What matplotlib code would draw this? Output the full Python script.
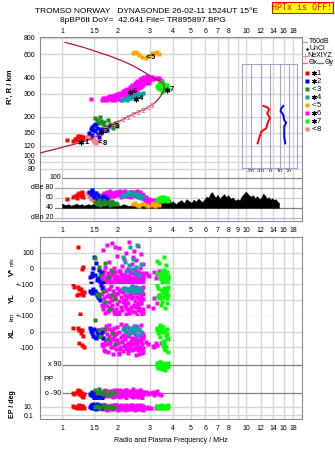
import numpy as np
from matplotlib import pyplot as plt
from matplotlib.patches import Rectangle
from matplotlib.ticker import NullLocator
from matplotlib.transforms import blended_transform_factory

plt.rcParams['font.family'] = ['Liberation Sans', 'DejaVu Sans']
plt.rcParams['font.size'] = 5

nan = np.nan
W, H = 335, 451

# frequency axis (MHz)
freq_ticks = [1, 1.5, 2, 3, 4, 5, 6, 7, 8, 9, 10, 12, 14, 16, 18]
freq_labels = ['1', '1.5', '2', '3', '4', '5', '6', '7', '8', '9',
               '10', '12', '14', '16', '18']
freq_labels_no9 = ['' if s == '9' else s for s in freq_labels]
range_ticks = [80, 90, 100, 120, 150, 200, 300, 400, 600, 800]

# true-height profile (red curve) and NeXtYZ points
prof_f = [0.75, 0.9, 1.06, 1.25, 1.40, 1.52, 1.62, 1.72, 1.86, 2.02, 2.15,
          2.29, 2.44, 2.60, 2.77, 2.92, 3.07, 3.22, 3.36, 3.48, 3.56, 3.60,
          3.56, 3.45, 3.27, 3.05, 2.77, 2.40, 2.07, 1.80, 1.54, 1.30, 1.04]
prof_r = [105, 112, 119, 126, 133, 140, 150, 160, 173, 183, 191, 200, 210,
          218, 226, 235, 245, 258, 275, 295, 315, 335, 355, 370, 384, 405,
          442, 495, 542, 585, 628, 680, 740]
ne_f = [1.52, 1.62, 1.72, 1.86, 2.02, 2.15, 2.29, 2.44, 2.60, 2.77, 2.92, 3.07]
ne_r = [140, 150, 160, 173, 183, 191, 200, 210, 218, 226, 235, 245]
ne_err = [5, 5, 6, 6, 6, 7, 7, 7, 8, 8, 8, 9]

# tilt inset
tilt_hx = [242, 234, 225, 212, 195, 183, 163, 154, 140, 133, 125]
tilt_x = [-7, -2, -1, -3, 0, -2, -4, -9, -11, -12, -13]
tilt_hy = [242, 232, 222, 206, 188, 180, 168, 154, 140, 125]
tilt_y = [14, 12, 11, 14, 15, 17, 15, 15, 15, 16]

# noise level (T60dB trace) in amplitude strip
noise_f = [1.00, 1.04, 1.08, 1.12, 1.16, 1.20, 1.24, 1.28, 1.32, 1.36,
           1.40, 1.44, 1.48, 1.52, 1.56, 1.60, 1.65, 1.70, 1.75, 1.80,
           1.85, 1.90, 1.95, 2.00, 2.08, 2.16, 2.24, 2.32, 2.40, 2.48,
           2.56, 2.64, 2.72, 2.80, 2.88, 2.96, 3.04, 3.12, 3.20, 3.28,
           3.36, 3.44, 3.52, 3.60, 3.68, 3.76, 3.84, 3.92, 4.00, 4.15,
           4.30, 4.45, 4.60, 4.75, 4.90, 5.05, 5.20, 5.35, 5.50, 5.65,
           5.80, 5.95, 6.10, 6.25, 6.40, 6.55, 6.70, 6.85, 7.00, 7.20,
           7.40, 7.60, 7.80, 8.00, 8.25, 8.50, 8.75, 9.00, 9.25, 9.50,
           9.75, 10.0, 10.3, 10.6, 10.9, 11.2, 11.5, 11.8, 12.1, 12.4,
           12.7, 13.0, 13.3, 13.6, 13.9, 14.2, 14.5, 14.8, 15.1]
noise_db = [48, 45, 47, 44, 46, 48, 45, 47, 44, 46,
            47, 45, 48, 46, 49, 45, 47, 44, 46, 45,
            44, 46, 43, 45, 44, 47, 45, 43, 46, 44,
            45, 43, 46, 44, 45, 43, 47, 50, 48, 52,
            56, 50, 58, 54, 61, 52, 57, 49, 53, 47,
            52, 55, 49, 57, 53, 50, 56, 52, 58, 54,
            51, 57, 62, 60, 68, 71, 64, 60, 66, 58,
            63, 67, 61, 65, 58, 60, 54, 57, 55, 63,
            68, 72, 66, 62, 65, 59, 63, 57, 60, 68,
            64, 58, 61, 56, 59, 55, 57, 52, 50]

# echo groups: frequency, virtual range (km), amplitude (dB)
g1_f = [1.07, 1.14, 1.17, 1.20, 1.21, 1.23, 1.25, 1.26, 1.28, 1.29, 1.30, 1.22]
g1_r = [133, 131, 134, 137, 133, 139, 143, 138, 136, 140, 139, 141]
g1_a = [58, 61, 64, 60, 66, 70, 67, 63, 71, 65, 62, 68]

g2_f = [1.40, 1.43, 1.45, 1.48, 1.50, 1.52, 1.55, 1.57, 1.60, 1.62, 1.65,
        1.68, 1.72, 1.76, 1.80, 1.46, 1.53, 1.58]
g2_r = [150, 162, 168, 158, 172, 155, 165, 148, 160, 152, 157, 162, 166,
        158, 170, 145, 175, 140]
g2_a = [72, 68, 75, 65, 62, 70, 58, 66, 60, 55, 52, 64, 61, 57, 50, 73, 69, 48]

g3_f = [1.52, 1.55, 1.58, 1.62, 1.66, 1.70, 1.74, 1.78, 1.82, 1.86, 1.90,
        1.95, 2.00, 1.60]
g3_r = [195, 188, 180, 186, 175, 182, 168, 190, 176, 172, 165, 178, 170, 200]
g3_a = [52, 48, 55, 50, 47, 53, 49, 51, 46, 54, 48, 50, 47, 45]

g4_f = [2.12, 2.18, 2.22, 2.26, 2.30, 2.34, 2.38, 2.42, 2.46, 2.50, 2.54,
        2.58, 2.62, 2.66, 2.70, 2.74]
g4_r = [268, 272, 276, 270, 280, 284, 278, 288, 282, 292, 286, 296, 290,
        300, 294, 305]
g4_a = [64, 66, 68, 70, 67, 69, 71, 66, 68, 65, 63, 67, 62, 64, 60, 61]

g5_f = [2.44, 2.50, 2.55, 2.63, 2.71, 2.85, 2.95, 3.07, 3.13, 3.20, 3.27, 3.38]
g5_r = [617, 625, 610, 593, 576, 560, 585, 617, 600, 610, 630, 605]
g5_a = [48, 50, 46, 44, 47, 45, 43, 46, 49, 44, 47, 45]

g6_f = [1.43, 1.64, 1.66, 1.70, 1.72, 1.75, 1.78, 1.80, 1.83, 1.86,
        1.88, 1.91, 1.94, 1.96, 1.99, 2.01, 2.04, 2.06, 2.09, 2.11,
        2.14, 2.16, 2.19, 2.21, 2.24, 2.26, 2.29, 2.31, 2.34, 2.36,
        2.39, 2.41, 2.44, 2.46, 2.49, 2.51, 2.54, 2.56, 2.59, 2.61,
        2.64, 2.66, 2.69, 2.71, 2.74, 2.76, 2.79, 2.82, 2.85, 2.88,
        2.93, 2.98, 3.03, 3.10, 3.18, 3.27, 3.40, 3.48, 3.35, 2.96,
        1.68, 1.77, 1.85, 1.92, 2.00, 2.08, 2.15, 2.22, 2.30, 2.37,
        2.45, 2.52, 2.60, 2.67, 2.75, 2.83, 2.90, 3.00, 3.08, 3.15]
g6_r = [272, 268, 276, 270, 280, 266, 284, 272, 288, 268,
        278, 292, 270, 284, 298, 275, 290, 305, 270, 296,
        312, 282, 320, 300, 288, 328, 310, 295, 340, 318,
        300, 350, 330, 310, 362, 338, 318, 372, 350, 330,
        385, 360, 340, 396, 372, 350, 405, 385, 362, 410,
        395, 375, 400, 390, 395, 393, 380, 372, 398, 360,
        274, 278, 282, 286, 290, 294, 302, 310, 322, 330,
        344, 352, 366, 374, 388, 398, 388, 385, 402, 385]
g6_a = [60, 62, 66, 70, 64, 72, 68, 61, 74, 66,
        70, 63, 68, 72, 65, 70, 67, 73, 62, 69,
        66, 71, 64, 74, 68, 63, 70, 66, 72, 61,
        69, 65, 72, 67, 70, 64, 73, 68, 62, 70,
        66, 71, 64, 68, 60, 66, 58, 55, 62, 52,
        56, 50, 54, 52, 55, 50, 53, 56, 54, 58,
        65, 70, 63, 69, 72, 66, 70, 67, 63, 71,
        68, 65, 72, 64, 62, 57, 53, 55, 52, 54]

g7_f = [3.28, 3.32, 3.36, 3.40, 3.44, 3.48, 3.52, 3.56, 3.60, 3.64, 3.68,
        3.72, 3.76, 3.50]
g7_r = [345, 330, 360, 325, 350, 370, 335, 320, 355, 340, 330, 348, 325, 310]
g7_a = [55, 58, 60, 56, 62, 59, 54, 57, 61, 58, 55, 60, 53, 57]

g8_f = [1.36, 1.40, 1.44, 1.47, 1.50, 1.53, 1.56, 1.45]
g8_r = [140, 146, 137, 132, 128, 126, 130, 143]
g8_a = [70, 64, 58, 55, 60, 52, 57, 66]

group_names = ['1', '2', '3', '4', '5', '6', '7', '8']
group_syms = ['*', '*', '<', '*', '<', '*', '*', '<']
group_colors = ['#ff0000', '#0000ff', '#1e8c1e', '#00a5a5',
                '#ffa500', '#ff00ff', '#00ff00', '#f08080']
tag_f = [1.27, 1.62, 1.85, 2.52, 2.93, 2.33, 3.70, 1.60]
tag_r = [127, 153, 168, 275, 565, 310, 320, 125]

# echo parameters: V* (m/s), YL (km), XL (km), PP (deg), EP (deg)
p1_f = [1.14, 1.16, 1.21, 1.22, 1.23, 1.24, 1.25, 1.27, 1.28, 1.30, 1.31, 1.29]
p1_v = [nan, nan, nan, 138, nan, nan, nan, nan, -5, 10, nan, nan]
p1_y = [100, 85, 32, 85, 68, 38, -90, 68, 53, 32, 53, nan]
p1_x = [22, nan, nan, 22, -70, 11, nan, -10, 11, -28, -96, -85]
p1_pp = [-90, -95, -80, -69, -92, -86, -75, -101, -88, -112, -95, -105]
p1_ep = [11, 10, 9, 11, 10, 12, 10, 9, 11, 10, 9, 11]

p2_f = [1.42, 1.44, 1.46, 1.48, 1.50, 1.51, 1.53, 1.55, 1.57, 1.58, 1.60,
        1.62, 1.64, 1.66, 1.45, 1.56]
p2_v = [-53, -96, -32, 0, 75, -43, 32, -75, -64, -11, -85, -21, nan, -96, -50, -70]
p2_y = [60, 53, 47, 68, 50, 57, 43, 32, 21, 11, 0, 96, 75, nan, 55, 40]
p2_x = [22, 5, -10, -25, 15, -35, -42, -5, 10, -20, -30, -15, 0, -40, 8, -28]
p2_pp = [-95, -100, -85, -110, -120, -90, -105, -130, -98, -88, -115, -92,
         -125, -100, -80, -108]
p2_ep = [10, 12, 8, 13, 9, 11, 7, 13, 10, 9, 12, 8, 11, 12, 10, 9]

p3_f = [1.52, 1.55, 1.58, 1.61, 1.66, 1.72, 1.77, 1.82, 1.88, 1.95]
p3_v = [64, nan, 10, -40, nan, 32, -53, nan, -20, nan]
p3_y = [nan, 40, 25, nan, 60, -10, nan, -60, 30, 5]
p3_x = [75, nan, 10, -30, nan, 20, -50, nan, -10, -80]
p3_pp = [-70, -90, -60, -85, -95, -75, -100, -88, -92, -80]
p3_ep = [10, 11, 9, 10, 12, 9, 10, 11, 8, 10]

p4_f = [2.15, 2.20, 2.25, 2.30, 2.35, 2.39, 2.44, 2.48, 2.52, 2.56, 2.62, 2.68]
p4_v = [75, 40, -20, 21, 138, -5, 60, -30, 10, 150, -40, 30]
p4_y = [70, 80, 55, 65, 75, 60, 85, 50, 72, 62, 78, 55]
p4_x = [20, 5, 30, -15, 15, 25, -5, 10, 35, -20, 18, 0]
p4_pp = [nan] * 12
p4_ep = [nan] * 12

p6_f = [1.64, 1.66, 1.67, 1.69, 1.70, 1.72, 1.73, 1.75, 1.76, 1.78,
        1.79, 1.81, 1.83, 1.84, 1.86, 1.87, 1.89, 1.91, 1.92, 1.94,
        1.95, 1.97, 1.99, 2.00, 2.02, 2.04, 2.05, 2.07, 2.09, 2.10,
        2.12, 2.14, 2.15, 2.17, 2.19, 2.20, 2.22, 2.24, 2.26, 2.27,
        2.29, 2.31, 2.32, 2.34, 2.36, 2.38, 2.39, 2.41, 2.43, 2.45,
        2.46, 2.48, 2.50, 2.51, 2.53, 2.55, 2.56, 2.58, 2.60, 2.61,
        2.63, 2.64, 2.66, 2.67, 2.69, 2.70, 2.72, 2.73, 2.75, 2.76,
        2.77, 1.68, 1.80, 1.93, 2.06, 2.18, 2.30, 2.44, 2.57, 2.71,
        2.86, 2.92, 3.05, 3.18, 3.24, 3.30, 3.36, 3.45, 2.98, 3.12,
        1.65, 1.71, 1.77, 1.82, 1.88, 1.96, 2.03, 2.11, 2.16, 2.23,
        2.28, 2.35, 2.40, 2.47, 2.52, 2.59, 2.62, 2.68, 2.74, 2.76]
p6_v = [-80, 120, -45, -95, -20, 10, -60, 150, -75, -30,
        -90, 40, -55, -10, -85, 165, -40, -70, 5, -98,
        -25, -65, 80, -50, -88, -15, 130, -72, -35, -92,
        15, -58, -80, 60, -42, -95, -20, 100, -66, -85,
        -5, -48, 170, -78, -30, -90, 25, -60, -82, 110,
        -38, -70, -12, -95, 55, -52, -86, -22, 145, -64,
        -90, -35, 0, -76, -48, 90, -98, -28, -60, 30,
        -84, -44, -70, 135, -18, -92, -56, 70, -38, -80,
        -30, -45, nan, -25, -60, -35, -20, nan, -50, nan,
        -70, -88, -52, -95, -33, -78, -60, -90, -46, -68,
        -84, -25, -74, -92, -58, -36, -80, -96, -64, -44]
p6_y = [40, -60, 85, -20, 10, -85, 55, -40, 25, -70,
        70, -10, -50, 90, 0, -30, 60, -75, 35, -90,
        15, -55, 75, -25, 45, -80, -5, 65, -45, 20,
        -65, 50, -15, 80, -35, 30, -90, 5, -60, 72,
        -20, 58, -85, 38, -48, 12, 88, -70, 22, -32,
        62, -8, -78, 48, -42, 18, -95, 78, -28, 42,
        -52, 2, 68, -72, 28, -18, 52, -88, 8, -58,
        82, -38, 32, -82, 58, -2, -62, 46, -26, 74,
        nan, -40, nan, 10, nan, -20, 30, nan, nan, -50,
        -30, 66, -72, 18, -58, 36, -88, 70, -12, -46,
        26, -80, 54, -36, 86, -64, 6, -20, 40, -84]
p6_x = [20, -40, -90, 5, -120, -60, 35, -15, -80, -130,
        -25, 45, -70, -100, 10, -50, -140, -30, 25, -85,
        -10, -110, -55, 30, -75, -145, 0, -95, -35, 50,
        -65, -20, -125, 15, -88, -45, 40, -105, -5, -72,
        -135, -28, 22, -92, -58, 8, -115, -38, -78, 38,
        -48, -102, -12, -68, -150, 28, -82, -22, -118, -52,
        12, -95, -62, -32, 42, -108, -8, -76, -128, -42,
        -18, -86, 18, -56, -112, 32, -98, -2, -66, -138,
        -64, -80, nan, -96, -70, -88, nan, -75, nan, -90,
        -82, -122, -44, -68, -100, -16, -134, -58, -90, -26,
        -120, -72, -4, -110, -40, -96, -142, -60, -30, -104]
p6_pp = [-85, -95, -78, -102, -90, -70, -110, -88, -96, -82,
         -92, -75, -105, -86, -98, -80, -115, -90, -72, -100,
         -87, -94, -68, -108, -83, -97, -77, -112, -91, -85,
         -99, -73, -89, -104, -81, -93, -66, -118, -86, -95,
         -79, -101, -88, -74, -107, -92, -84, -98, -62, -90,
         -96, -82, -109, -87, -76, -100, -93, -80, -114, -89,
         -84, -97, -71, -103, -90, -78, -120, -86, -94, -81,
         -91, -106, -83, -95, -69, -99, -88, -111, -85, -93,
         -80, -95, -88, -100, -85, -75, -92, -98, -90, -82,
         -88, -100, -82, -94, -78, -106, -90, -84, -98, -72,
         -92, -86, -104, -80, -96, -90, -76, -102, -88, -94]
p6_ep = [8, 10, 7, 11, 9, 12, 8, 10, 6, 9,
         11, 8, 10, 7, 12, 9, 8, 11, 10, 7,
         9, 12, 8, 10, 6, 11, 9, 8, 10, 12,
         7, 9, 11, 8, 10, 6, 12, 9, 8, 10,
         11, 7, 9, 10, 8, 12, 9, 7, 11, 8,
         10, 9, 6, 11, 8, 10, 12, 7, 9, 10,
         8, 11, 9, 7, 10, 12, 8, 9, 11, 6,
         9, 10, 8, 12, 7, 9, 11, 8, 10, 9,
         9, 10, 8, nan, 9, 11, nan, 10, 8, nan,
         10, 8, 11, 9, 7, 12, 10, 8, 9, 11,
         7, 10, 12, 9, 8, 10, 11, 7, 9, 10]

p7_f = [3.27, 3.30, 3.34, 3.38, 3.41, 3.45, 3.48, 3.52, 3.55, 3.58,
        3.62, 3.65, 3.68, 3.70, 3.73, 3.76, 3.78, 3.44, 3.60, 3.50,
        3.66, 3.40, 3.57, 3.72]
p7_v = [49, -30, nan, 32, -60, -45, -15, -75, -90, 75,
        -25, -55, -40, -22, -85, -65, -50, -70, -35, -95,
        20, nan, -10, -80]
p7_y = [96, 20, 75, nan, 32, 64, -11, 50, 21, 75,
        -53, 40, nan, 64, 10, 30, 85, -30, 55, nan,
        45, 15, nan, -20]
p7_x = [11, 22, -10, 0, -32, 36, -64, 32, -85, -106,
        5, -117, -20, 15, -40, -130, -50, 25, -70, -5,
        -95, 40, -60, -15]
p7_pp = [85, 100, 70, 95, 110, 80, 65, 90, 105, 75,
         88, 60, 98, 92, 78, 84, 102, 72, 96, 68,
         86, 108, 80, 94]
p7_ep = [10, 11, 9, 10, 10, 12, 9, 10, 11, 10,
         9, 10, 11, 10, 9, 12, 10, 9, 11, 10,
         10, 9, 11, 10]

GRID = '#d6d6d6'
FRAME = '#8c8c8c'
PINK = '#e87fa0'
FMIN, FMAX = 0.759, 20.15

fig = plt.figure(figsize=(W / 100, H / 100), dpi=100)


def px_axes(x0, y0, x1, y1):
    """Adds axes from pixel box (top-left origin)."""
    return fig.add_axes([x0 / W, 1 - y1 / H, (x1 - x0) / W, (y1 - y0) / H])


def freq_axis(ax, hide=()):
    """Common frequency axis setup."""
    ax.set_xscale('log')
    ax.set_xlim(FMIN, FMAX)
    ax.set_xticks(freq_ticks)
    ax.xaxis.set_minor_locator(NullLocator())
    ax.set_xticklabels([])
    ax.tick_params(length=0)
    ax.grid(True, axis='x', color=GRID, lw=1.0)
    ax.set_axisbelow(True)
    for name, s in ax.spines.items():
        s.set_color(FRAME)
        s.set_linewidth(0.8)
        if name in hide:
            s.set_visible(False)


def dots(ax, x, y, c, z=3):
    ax.plot(x, y, 's', color=c, ms=2.3, mec='none', zorder=z, clip_on=True)


def tag(ax, x, y, sym, name):
    if sym == '*':
        ax.plot([x], [y], marker=(6, 2, 0), ms=4, mew=0.9, color='k', zorder=6)
    else:
        ax.annotate('<', (x, y), ha='center', va='center', fontsize=6,
                    fontweight='bold', zorder=6)
    ax.annotate(name, (x, y), xytext=(2.3, 0), textcoords='offset points',
                ha='left', va='center', fontsize=5.5, fontweight='bold', zorder=6)


top_groups = [(g1_f, g1_r, g1_a), (g2_f, g2_r, g2_a), (g3_f, g3_r, g3_a),
              (g4_f, g4_r, g4_a), (g5_f, g5_r, g5_a), (g6_f, g6_r, g6_a),
              (g7_f, g7_r, g7_a), (g8_f, g8_r, g8_a)]
draw_order = [5, 3, 0, 7, 1, 2, 4, 6]

# --- range panel ---
ax = px_axes(40, 37, 302, 172)
freq_axis(ax, hide=('bottom',))
ax.set_yscale('log')
ax.set_ylim(75.4, 813.7)
ax.set_yticks(range_ticks)
ax.yaxis.set_minor_locator(NullLocator())
ax.set_yticklabels([str(v) for v in range_ticks])
ax.grid(True, axis='y', color=GRID, lw=1.0)
ax.xaxis.tick_top()
ax.set_xticklabels(freq_labels_no9)
ax.tick_params(axis='x', pad=1.2)
ax.tick_params(axis='y', pad=3.4)
for i in draw_order:
    f, r, _ = top_groups[i]
    dots(ax, f, r, group_colors[i])
ax.plot(prof_f, prof_r, color='#b01848', lw=0.9, zorder=4)
ax.errorbar(ne_f, ne_r, yerr=ne_err, fmt='+', color=PINK, ms=3, mew=0.6,
            elinewidth=0.6, capsize=1.2, zorder=5)
for i in range(8):
    tag(ax, tag_f[i], tag_r[i], group_syms[i], group_names[i])

# tilt inset
axt = px_axes(241.7, 64, 297.3, 168)
axt.set_facecolor('none')
axt.set_xlim(-29.8, 28.7)
axt.set_yscale('log')
axt.set_ylim(81, 506)
axt.set_yticks([])
axt.yaxis.set_minor_locator(NullLocator())
axt.set_xticks([-20, -10, 0, 10, 20])
axt.set_xticklabels(['-20', '-10', '0', '10', '20'], fontsize=3.8)
axt.tick_params(length=0, pad=0.8)
axt.grid(True, axis='x', color='#a4a4c4', lw=0.8)
for s in axt.spines.values():
    s.set_color('#a4a4c4')
    s.set_linewidth(0.8)
axt.set_xlabel('Tilt / deg', fontsize=3.8, labelpad=0)
axt.plot(tilt_x, tilt_hx, color='#ff0000', lw=1.4)
axt.plot(tilt_y, tilt_hy, color='#0000ff', lw=1.4)

# --- amplitude panel ---
axa = px_axes(40, 172, 302, 221)
freq_axis(axa, hide=('top',))
axa.set_ylim(13.4, 111.4)
axa.set_yticks([])
axa.set_xticklabels(freq_labels)
axa.tick_params(axis='x', pad=4.0)
amp_lines = [(100, 62, '#8c8c8c', '100', 61.5), (80, 55, '#a8a8a8', 'dBe 80', 53.5),
             (60, 55, '#cfcfcf', '60', 53.5), (40, 55, '#808080', '40', 53.5),
             (20, 55, '#b4b4e6', 'dBn 20', 53.5)]
bt = blended_transform_factory(axa.transAxes, axa.transData)
for val, x0, col, lab, xl in amp_lines:
    axa.axhline(val, xmin=(x0 - 40) / 262, color=col, lw=0.9, zorder=1)
    axa.text((xl - 40) / 262, val, lab, transform=bt, ha='right', va='center')
axa.fill_between(noise_f, 40, noise_db, color='k', lw=0.4, zorder=2)
for i in draw_order:
    f, _, a = top_groups[i]
    dots(axa, f, a, group_colors[i])

# --- echo parameter panels ---
low_groups = [(0, p1_f, p1_v, p1_y, p1_x, p1_pp, p1_ep),
              (5, p6_f, p6_v, p6_y, p6_x, p6_pp, p6_ep),
              (3, p4_f, p4_v, p4_y, p4_x, p4_pp, p4_ep),
              (1, p2_f, p2_v, p2_y, p2_x, p2_pp, p2_ep),
              (2, p3_f, p3_v, p3_y, p3_x, p3_pp, p3_ep),
              (6, p7_f, p7_v, p7_y, p7_x, p7_pp, p7_ep)]

axv = px_axes(40, 237, 302, 284)
axy = px_axes(40, 284, 302, 316)
axx = px_axes(40, 316, 302, 358)
axp = px_axes(40, 358, 302, 400)
axe = px_axes(40, 400, 302, 419)
freq_axis(axv, hide=('bottom',))
freq_axis(axy, hide=('top', 'bottom'))
freq_axis(axx, hide=('top', 'bottom'))
freq_axis(axp, hide=('top', 'bottom'))
freq_axis(axe, hide=('top',))
axv.set_ylim(-100.6, 200.6)
axy.set_ylim(-102.6, 102.6)
axx.set_ylim(-168.6, 100.6)
axp.set_ylim(-132.6, 134.5)
axe.set_ylim(-4.16, 17.7)
axv.set_yticks([100, 0])
axv.set_yticklabels(['100', '0'])
axy.set_yticks([100, 0, -100])
axy.set_yticklabels(['+-100', '0', '+-100'])
axx.set_yticks([0, -100])
axx.set_yticklabels(['0', '-100'])
axp.set_yticks([])
axe.set_yticks([10, 0.1])
axe.set_yticklabels(['10.', '0.1'])
for a in (axv, axy, axx, axe):
    a.grid(True, axis='y', color=GRID, lw=1.0)
    a.tick_params(axis='y', pad=4.6)
bp = blended_transform_factory(axp.transAxes, axp.transData)
for val, lab in [(90, 'x 90'), (-90, 'o -90')]:
    axp.axhline(val, xmin=(63 - 40) / 262, color='#808080', lw=0.9, zorder=1)
    axp.text((61 - 40) / 262, val, lab, transform=bp, ha='right', va='center')
axp.text((43 - 40) / 262, 0, 'PP', transform=bp, ha='left', va='center', fontsize=5.5)
axe.set_xticklabels(freq_labels_no9)
axe.tick_params(axis='x', pad=4.0)
axe.set_xlabel('Radio and Plasma Frequency / MHz', fontsize=5, labelpad=4)

for gi, f, v, yl, xl, pp, ep in low_groups:
    c = group_colors[gi]
    dots(axv, f, v, c)
    dots(axy, f, yl, c)
    dots(axx, f, xl, c)
    dots(axp, f, pp, c)
    dots(axe, f, ep, c)

# --- overlay: titles, legend, side labels ---
ov = fig.add_axes([0, 0, 1, 1])
ov.set_xlim(0, W)
ov.set_ylim(H, 0)
ov.axis('off')

ov.text(35, 11.7, 'TROMSO NORWAY   DYNASONDE 26-02-11 1524UT 15°E',
        fontsize=6, ha='left', va='center')
ov.text(60, 20.7, '8pBP6It DoY=  42.641 File= TR895897.BPG',
        fontsize=6, ha='left', va='center')
ov.add_patch(Rectangle((271.7, 1.7), 61.6, 11, facecolor='#ffff00',
                       edgecolor='#ff0000', lw=0.8))
ov.text(302.5, 7.3, 'HPTx is OFF!', color='#ff0000', fontsize=6,
        family='DejaVu Sans Mono', ha='center', va='center')

ov.plot([302.7, 307.3], [41.5, 41.5], color='#a8a8a8', lw=0.9)
ov.text(308.5, 41.5, 'T60dB', va='center', fontsize=5)
ov.plot([306.7], [48.5], 'o', color='k', ms=0.8)
ov.text(310, 48.5, 'UnCl', va='center', fontsize=5)
ov.plot([304.5], [55.5], '+', color=PINK, ms=4, mew=0.6)
ov.text(307.5, 55.5, 'NeXtYZ', va='center', fontsize=5)
ov.plot([302.7, 307.3], [62.5, 62.5], color='#ff6060', lw=0.9)
ov.text(309, 62.5, 'Θx', va='center', fontsize=5)
ov.plot([317.3, 323.3], [62.5, 62.5], color='#6060ff', lw=0.9)
ov.text(324.5, 62.5, 'Θy', va='center', fontsize=5)
for i in range(8):
    yy = 73.3 + i * 8.0
    ov.plot([307.3], [yy], 's', color=group_colors[i], ms=2.4, mec='none')
    if group_syms[i] == '*':
        ov.plot([314], [yy], marker=(6, 2, 0), ms=3.5, mew=0.8, color='k')
    else:
        ov.text(314, yy, '<', fontsize=5.5, ha='center', va='center')
    ov.text(316.5, yy, group_names[i], fontsize=5.5, ha='left', va='center')

ov.text(10.5, 86.5, "R', R / km", rotation=90, ha='center', va='center',
        fontsize=5.5, fontweight='bold')
ov.text(12.5, 262, 'm/s', rotation=90, ha='center', va='center', fontsize=3.8)
ov.text(12, 272, 'V*', rotation=90, ha='center', va='center', fontsize=5.5,
        fontweight='bold')
ov.text(12, 298.5, 'YL', rotation=90, ha='center', va='center', fontsize=5.5,
        fontweight='bold')
ov.text(12.5, 317, 'km', rotation=90, ha='center', va='center', fontsize=4.5)
ov.text(12, 333.5, 'XL', rotation=90, ha='center', va='center', fontsize=5.5,
        fontweight='bold')
ov.text(12, 404, 'EP / deg', rotation=90, ha='center', va='center', fontsize=5,
        fontweight='bold')

fig.savefig('out.png', dpi=100)
